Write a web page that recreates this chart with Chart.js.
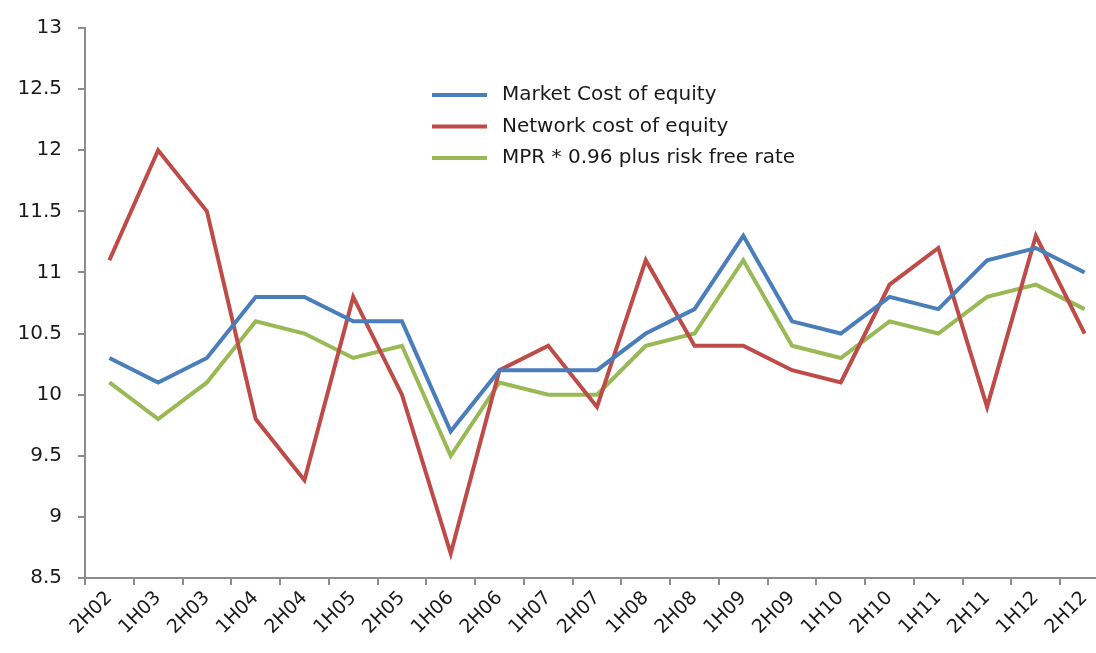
<!DOCTYPE html>
<html>
<head>
<meta charset="utf-8">
<script src="https://cdn.jsdelivr.net/npm/chart.js@4"></script>
<style>
  html, body { margin: 0; padding: 0; background: #fff; overflow: hidden; }
  #wrap { width: 1112px; height: 653px; }
</style>
</head>
<body>
<div id="wrap"><canvas id="grafica"></canvas></div>
<script>
// Periodos (semestres)
const periodos = ["2H02", "1H03", "2H03", "1H04", "2H04", "1H05", "2H05", "1H06", "2H06", "1H07", "2H07",
  "1H08", "2H08", "1H09", "2H09", "1H10", "2H10", "1H11", "2H11", "1H12", "2H12"];
// Series
const costeMercado = [10.3, 10.1, 10.3, 10.8, 10.8, 10.6, 10.6, 9.7, 10.2, 10.2, 10.2,
  10.5, 10.7, 11.3, 10.6, 10.5, 10.8, 10.7, 11.1, 11.2, 11.0];
const costeRed = [11.1, 12.0, 11.5, 9.8, 9.3, 10.8, 10.0, 8.7, 10.2, 10.4, 9.9,
  11.1, 10.4, 10.4, 10.2, 10.1, 10.9, 11.2, 9.9, 11.3, 10.5];
const mprRiesgo = [10.1, 9.8, 10.1, 10.6, 10.5, 10.3, 10.4, 9.5, 10.1, 10.0, 10.0,
  10.4, 10.5, 11.1, 10.4, 10.3, 10.6, 10.5, 10.8, 10.9, 10.7];
const nombres = ["Market Cost of equity", "Network cost of equity", "MPR * 0.96 plus risk free rate"];
const colores = ["#4A7EBB", "#BE4B48", "#98B954"];

const fuente = "'DejaVu Sans', sans-serif";
const gris = "#8c8c8c";

// Leyenda dibujada dentro del área del gráfico
const leyendaInterna = {
  id: "leyendaInterna",
  afterDraw(chart) {
    const ctx = chart.ctx;
    ctx.save();
    ctx.font = "20px " + fuente;
    ctx.textBaseline = "middle";
    chart.data.datasets.forEach((ds, i) => {
      const y = 95 + i * 31.5;
      ctx.strokeStyle = ds.borderColor;
      ctx.lineWidth = 4;
      ctx.beginPath();
      ctx.moveTo(432, y);
      ctx.lineTo(487, y);
      ctx.stroke();
      ctx.fillStyle = "#1a1a1a";
      ctx.fillText(ds.label, 502, y);
    });
    ctx.restore();
  }
};

const series = [costeMercado, costeRed, mprRiesgo];

new Chart(document.querySelector("#grafica"), {
  type: "line",
  data: {
    labels: periodos,
    datasets: series.map((d, i) => ({
      label: nombres[i],
      data: d,
      borderColor: colores[i],
      backgroundColor: colores[i],
      borderWidth: 4,
      pointRadius: 0,
      tension: 0,
      fill: false
    }))
  },
  options: {
    responsive: true,
    maintainAspectRatio: false,
    animation: false,
    layout: { padding: { top: 26, right: 3, left: 0, bottom: 0 } },
    plugins: {
      legend: { display: false },
      tooltip: { enabled: false }
    },
    scales: {
      x: {
        offset: true,
        grid: { offset: true, drawOnChartArea: false, drawTicks: true, tickLength: 7, color: gris, lineWidth: 2 },
        border: { color: gris, width: 2 },
        ticks: {
          minRotation: 45, maxRotation: 45, autoSkip: false,
          color: "#1a1a1a", font: { family: fuente, size: 19 }, padding: 2
        },
        afterFit(s) { s.height = 75; }
      },
      y: {
        min: 8.5, max: 13,
        grid: { drawOnChartArea: false, drawTicks: true, tickLength: 7, color: gris, lineWidth: 2 },
        border: { color: gris, width: 2 },
        ticks: {
          stepSize: 0.5, color: "#1a1a1a", font: { family: fuente, size: 20 }, padding: 16,
          callback: v => String(Math.round(v * 10) / 10)
        },
        afterFit(s) { s.width = 85; }
      }
    }
  },
  plugins: [leyendaInterna]
});
</script>
</body>
</html>
